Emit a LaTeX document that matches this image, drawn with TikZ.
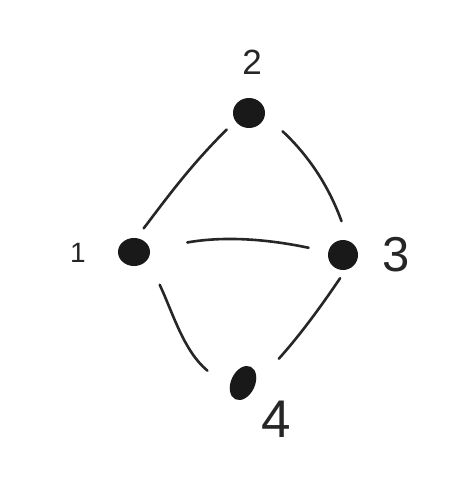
\documentclass[tikz,border=0pt]{standalone}
\usepackage{fontspec}
\setmainfont{Liberation Sans}
\usetikzlibrary{shapes.geometric}
\begin{document}
\begin{tikzpicture}[x=1pt,y=-1pt,
  vtx/.style={ellipse,fill=black!90,draw=none,inner sep=0pt},
  lbl/.style={inner sep=0pt,text=black!85},
  edge/.style={line width=2.6pt,line cap=round,draw=black!85}]
\useasboundingbox (0,0) rectangle (466,500);
\fill[white] (0,0) rectangle (466,500);
\node[vtx,minimum width=32pt,minimum height=30pt] (v2) at (249,113) {};
\node[vtx,minimum width=32pt,minimum height=28pt] (v1) at (134,252) {};
\node[vtx,minimum width=30pt,minimum height=30pt] (v3) at (343,255) {};
\node[vtx,minimum width=36pt,minimum height=24pt,rotate=65] (v4) at (243,383) {};
\node[lbl,font=\fontsize{35}{35}\selectfont] (l2) at (252,62) {2};
\node[lbl,font=\fontsize{28}{28}\selectfont] (l1) at (78,253) {1};
\node[lbl,font=\fontsize{49}{49}\selectfont] (l3) at (396,255) {3};
\node[lbl,font=\fontsize{53}{53}\selectfont] (l4) at (276,419) {4};
\draw[edge,shorten <=12pt,shorten >=12pt] (v2.210) to[out=225,in=53] (v1.80);
\draw[edge,shorten <=24pt,shorten >=21pt] (v2.353) to[out=317,in=110] (v3.68);
\draw[edge,shorten <=38pt,shorten >=20pt] (v1) to[bend left=11] (v3);
\draw[edge,shorten <=28pt,shorten >=29pt] (v1.-28) to[out=295,in=140] (v4.140);
\draw[edge,shorten <=10pt,shorten >=35pt] (v3.-80) to[out=236,in=48] (v4.287);
\end{tikzpicture}
\end{document}
